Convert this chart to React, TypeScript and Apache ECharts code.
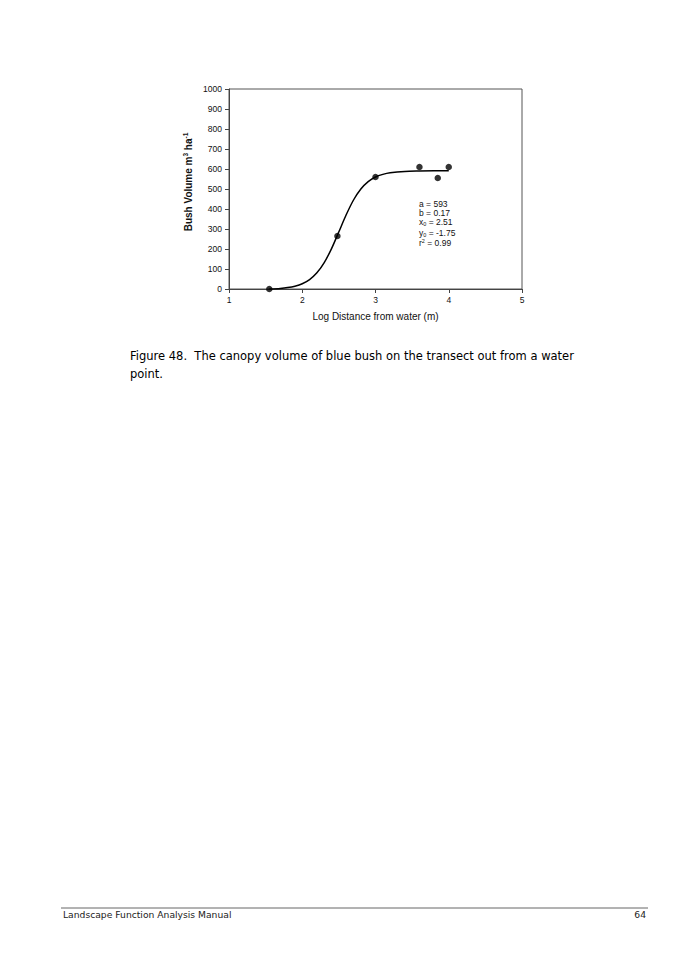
import { useEffect, useRef } from "react";
import * as echarts from "echarts";

// measured points: log distance from water vs bush volume
const pointX = [1.55, 2.48, 3.0, 3.6, 3.85, 4.0];
const pointY = [0, 265, 560, 610, 555, 610];

// fitted sigmoid curve
const curveX = [1.55, 1.7, 1.8, 1.9, 2.0, 2.1, 2.2, 2.3, 2.4, 2.5, 2.6, 2.7, 2.8, 2.9, 3.0, 3.1, 3.2, 3.4, 3.6, 3.8, 4.0];
const curveY = [0, 3, 7, 14, 26, 47, 81, 132, 202, 286, 371, 445, 500, 537, 560, 573, 581, 588, 590, 591, 591];

const fitLabels = ["a = 593", "b = 0.17", "x{sub|0} = 2.51", "y{sub|0} = -1.75", "r{sup|2} = 0.99"];

const captionLines = [
  "Figure 48.  The canopy volume of blue bush on the transect out from a water",
  "point.",
];

const FONT = "'Liberation Sans', Arial, sans-serif";
const PAGE_FONT = "'DejaVu Sans', sans-serif";

export default function App() {
  const chartRef = useRef<HTMLDivElement>(null);

  useEffect(() => {
    if (!chartRef.current) return;
    const chart = echarts.init(chartRef.current, null, { renderer: "svg" });

    const fitTops = [199, 208, 217, 228, 238];
    const fitTexts = fitLabels.map((t, i) => ({
      type: "text",
      left: 419,
      top: fitTops[i],
      style: {
        text: t,
        fontFamily: FONT,
        fontSize: 8.5,
        fill: "#111",
        rich: {
          sub: { fontSize: 5.5, fontFamily: FONT, padding: [4, 0, 0, 0] },
          sup: { fontSize: 5.5, fontFamily: FONT, padding: [0, 0, 4, 0] },
        },
      },
    }));

    const option = {
      animation: false,
      backgroundColor: "#fff",
      grid: {
        left: 229,
        right: 178,
        top: 89,
        bottom: 671,
        show: true,
        borderColor: "#555",
        borderWidth: 1,
      },
      xAxis: {
        type: "value",
        min: 1,
        max: 5,
        interval: 1,
        name: "Log Distance from water (m)",
        nameLocation: "middle",
        nameGap: 22,
        nameTextStyle: { fontFamily: FONT, fontSize: 10, color: "#111" },
        axisLine: { lineStyle: { color: "#444", width: 1 } },
        axisTick: { show: true, length: 4, lineStyle: { color: "#444" } },
        axisLabel: { fontFamily: FONT, fontSize: 8.5, color: "#111", margin: 6, formatter: (v: number) => String(v) },
        splitLine: { show: false },
      },
      yAxis: {
        type: "value",
        min: 0,
        max: 1000,
        interval: 100,
        name: "{b|Bush Volume m}{s|3}{b| ha}{s|-1}",
        nameLocation: "middle",
        nameGap: 35,
        nameTextStyle: {
          padding: [0, 0, 0, 14],
          rich: {
            b: { fontFamily: FONT, fontSize: 10, fontWeight: "bold", color: "#111" },
            s: { fontFamily: FONT, fontSize: 6.5, fontWeight: "bold", color: "#111", padding: [0, 0, 5, 0] },
          },
        },
        axisLine: { show: true, lineStyle: { color: "#444", width: 1 } },
        axisTick: { show: true, length: 4, lineStyle: { color: "#444" } },
        axisLabel: { fontFamily: FONT, fontSize: 8.5, color: "#111", margin: 7, formatter: (v: number) => String(v) },
        splitLine: { show: false },
      },
      series: [
        {
          name: "fit",
          type: "line",
          data: curveX.map((x, i) => [x, curveY[i]]),
          smooth: 0.3,
          showSymbol: false,
          lineStyle: { color: "#000", width: 1.5 },
          z: 2,
        },
        {
          name: "observed",
          type: "scatter",
          data: pointX.map((x, i) => [x, pointY[i]]),
          symbol: "circle",
          symbolSize: 6.5,
          itemStyle: { color: "#000" },
          z: 3,
        },
      ],
      graphic: [
        ...fitTexts,
        ...captionLines.map((t, i) => ({
          type: "text",
          left: 130,
          top: 350 + i * 18,
          style: { text: t, fontFamily: PAGE_FONT, fontSize: 11.5, fill: "#000" },
        })),
        {
          type: "line",
          shape: { x1: 61, y1: 908, x2: 648, y2: 908 },
          style: { stroke: "#666", lineWidth: 1 },
        },
        {
          type: "text",
          left: 63,
          top: 910,
          style: { text: "Landscape Function Analysis Manual", fontFamily: PAGE_FONT, fontSize: 9.2, fill: "#222" },
        },
        {
          type: "text",
          right: 54,
          top: 910,
          style: { text: "64", fontFamily: PAGE_FONT, fontSize: 9.2, fill: "#222" },
        },
      ],
    };

    chart.setOption(option);
    return () => chart.dispose();
  }, []);

  return (
    <div
      ref={chartRef}
      style={{ position: "absolute", left: 0, top: 0, width: "700px", height: "960px", background: "#fff" }}
    />
  );
}
